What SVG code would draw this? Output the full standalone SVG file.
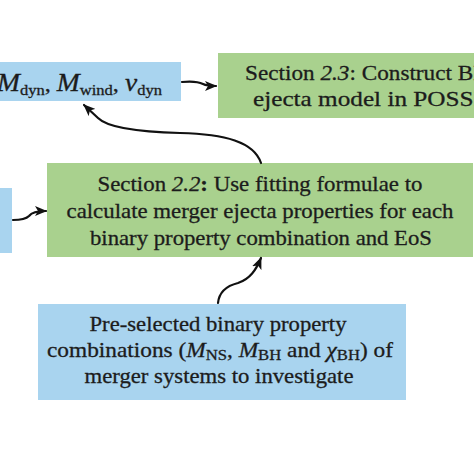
<svg xmlns="http://www.w3.org/2000/svg" width="474" height="474" viewBox="0 0 474 474">
<style>
.blue{fill:#a9d4ef}
.green{fill:#a9d18e}
.t{font-family:"Liberation Serif","Times New Roman",serif;font-size:21px;fill:#1c1c1c;stroke:#1c1c1c;stroke-width:0.3;text-anchor:middle}
.tl{font-family:"Liberation Serif","Times New Roman",serif;font-size:22px;fill:#1c1c1c;stroke:#1c1c1c;stroke-width:0.3}
.i{font-style:italic}
.sub{font-size:15px}
.con{fill:none;stroke:#111;stroke-width:2.2;stroke-linecap:round}
</style>
<defs>
<marker id="ah" markerUnits="userSpaceOnUse" markerWidth="12" markerHeight="10" refX="11" refY="5" orient="auto">
<path d="M0,0 L12,5 L0,10 L3,5 Z" fill="#111"/>
</marker>
</defs>
<rect width="474" height="474" fill="#fff"/>

<g id="ejecta-props">
<rect class="blue" x="0" y="62" width="181" height="39"/>
<text class="tl" x="-3" y="91" textLength="165" lengthAdjust="spacingAndGlyphs"><tspan class="i" font-size="25">M</tspan><tspan class="sub" font-size="17" dy="4">dyn</tspan><tspan dy="-4">, </tspan><tspan class="i" font-size="25">M</tspan><tspan class="sub" font-size="17" dy="4">wind</tspan><tspan dy="-4">, </tspan><tspan class="i" font-size="25">v</tspan><tspan class="sub" font-size="17" dy="4">dyn</tspan></text>
</g>

<g id="section-2-3">
<rect class="green" x="218" y="53" width="256" height="65"/>
<text class="tl" x="245" y="80" font-size="23" textLength="245" lengthAdjust="spacingAndGlyphs"><tspan>Section </tspan><tspan class="i">2.3</tspan><tspan>: Construct BH</tspan></text>
<text class="tl" x="253" y="106" font-size="23" textLength="229" lengthAdjust="spacingAndGlyphs">ejecta model in POSSI</text>
</g>

<g id="left-box">
<rect class="blue" x="0" y="188" width="12" height="65"/>
</g>

<g id="section-2-2">
<rect class="green" x="47" y="163" width="426" height="94"/>
<text class="t" x="260" y="191" textLength="325" lengthAdjust="spacingAndGlyphs">Section <tspan class="i">2.2</tspan><tspan font-weight="bold">:</tspan> Use fitting formulae to</text>
<text class="t" x="260" y="218" textLength="387" lengthAdjust="spacingAndGlyphs">calculate merger ejecta properties for each</text>
<text class="t" x="261" y="245" textLength="342" lengthAdjust="spacingAndGlyphs">binary property combination and EoS</text>
</g>

<g id="binary-combinations">
<rect class="blue" x="38" y="304" width="368" height="96"/>
<text class="t" x="218" y="331" textLength="257" lengthAdjust="spacingAndGlyphs">Pre-selected binary property</text>
<text class="t" x="220" y="357" textLength="346" lengthAdjust="spacingAndGlyphs">combinations (<tspan class="i">M</tspan><tspan class="sub" dy="3">NS</tspan><tspan dy="-3">, </tspan><tspan class="i">M</tspan><tspan class="sub" dy="3">BH</tspan><tspan dy="-3"> and </tspan><tspan class="i">χ</tspan><tspan class="sub" dy="3">BH</tspan><tspan dy="-3">) of</tspan></text>
<text class="t" x="219" y="383" textLength="269" lengthAdjust="spacingAndGlyphs">merger systems to investigate</text>
</g>

<g id="connectors">
<path class="con" d="M182,82 C192,81 199,82 203,84 C207,86 210,86 216,86" marker-end="url(#ah)"/>
<path class="con" d="M13,220 C20,220 26,219 29,216 C32,212 38,211 46,211" marker-end="url(#ah)"/>
<path class="con" d="M261,163 C254,142 225,134 180,133 C140,132 108,128 98,118 L84,105" marker-end="url(#ah)"/>
<path class="con" d="M218,303 C219,293 226,286 238,283 C250,279 256,270 261,258" marker-end="url(#ah)"/>
</g>
</svg>
